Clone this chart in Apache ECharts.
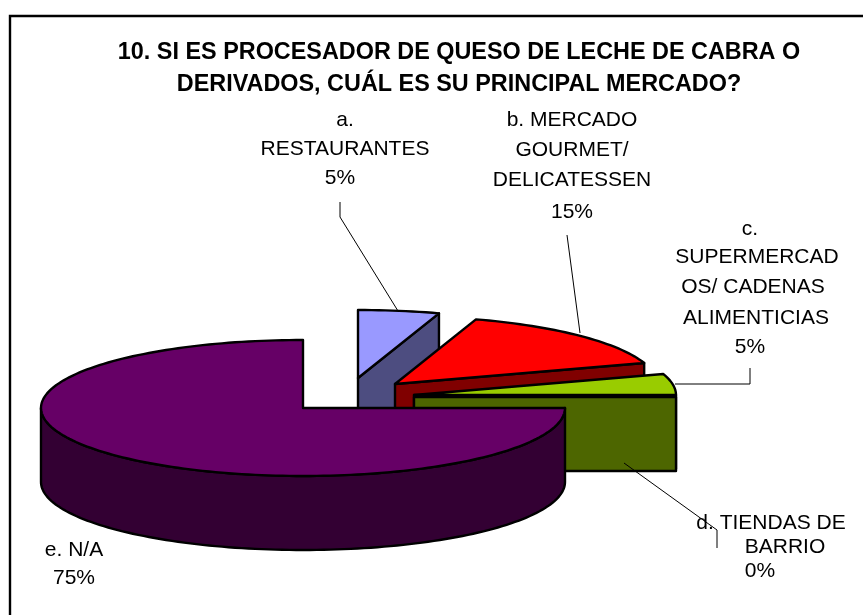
<!DOCTYPE html>
<html>
<head>
<meta charset="utf-8">
<style>html,body{margin:0;padding:0;background:#fff}#c{width:863px;height:615px}</style>
<script src="https://cdn.jsdelivr.net/npm/echarts@6/dist/echarts.min.js"></script>
</head>
<body>
<div id="c"></div>
<script>
// ---- data ----
const categories = ['a. RESTAURANTES', 'b. MERCADO GOURMET/ DELICATESSEN', 'c. SUPERMERCADOS/ CADENAS ALIMENTICIAS', 'd. TIENDAS DE BARRIO', 'e. N/A'];
const values = [5, 15, 5, 0, 75];
const titleText = '10. SI ES PROCESADOR DE QUESO DE LECHE DE CABRA O\nDERIVADOS, CUÁL ES SU PRINCIPAL MERCADO?';
const labelLines = [
  ['a.', 'RESTAURANTES'],
  ['b. MERCADO', 'GOURMET/', 'DELICATESSEN'],
  ['c.', 'SUPERMERCAD', 'OS/ CADENAS', 'ALIMENTICIAS'],
  ['d. TIENDAS DE', 'BARRIO'],
  ['e. N/A']
];

// ---- styles / layout ----
const topColors = ['#9999FF', '#FF0000', '#99CC00', '#99CC00', '#660066'];
const sideColors = ['#4D4D80', '#800000', '#4D6600', '#4D6600', '#330033'];
const apexes = [[358, 378], [395, 384], [414, 395], [414, 397], [303, 408]];
const RX = 262, RY = 68, DEPTH = 74;
const labelPos = [
  [[345, 120], [345, 149], [340, 178]],
  [[572, 120], [572, 150], [572, 180], [572, 212]],
  [[750, 229], [757, 257], [753, 287], [756, 318], [750, 347]],
  [[771, 523], [785, 547], [760, 571]],
  [[74, 550], [74, 578]]
];
const leaders = [
  [[340, 202], [340, 217], [398, 311]],
  [[567, 235], [580, 333]],
  [[750, 368], [750, 384], [675, 384]],
  [[624, 463], [717, 530], [717, 548]],
  []
];

const total = values.reduce((s, v) => s + v, 0);
function pt(apex, deg) {
  const r = deg * Math.PI / 180;
  return [apex[0] + RX * Math.sin(r), apex[1] - RY * Math.cos(r)];
}
function arc(apex, a0, a1) {
  const out = [];
  const n = Math.max(1, Math.ceil(Math.abs(a1 - a0) / 1.5));
  for (let i = 0; i <= n; i++) out.push(pt(apex, a0 + (a1 - a0) * i / n));
  return out;
}
const down = p => [p[0], p[1] + DEPTH];
const strokeStyle = fill => ({ fill, stroke: '#000', lineWidth: 2.4, lineJoin: 'round' });

function renderSlice(params, api) {
  const i = params.dataIndex;
  let before = 0;
  for (let k = 0; k < i; k++) before += values[k];
  const a0 = before / total * 360;
  const a1 = (before + api.value(0)) / total * 360;
  const apex = apexes[i];
  const children = [];
  // outer wall: only the part on the near half of the ellipse is visible
  const w0 = Math.max(a0, 90), w1 = Math.min(a1, 270);
  if (w1 > w0) {
    const rim = arc(apex, w0, w1);
    children.push({ type: 'polygon', shape: { points: rim.concat(rim.slice().reverse().map(down)) }, style: strokeStyle(sideColors[i]) });
  }
  // cut face at the end of the slice, when it faces the viewer
  if (a1 <= 90) {
    const e = pt(apex, a1);
    children.push({ type: 'polygon', shape: { points: [apex, e, down(e), down(apex)] }, style: strokeStyle(sideColors[i]) });
  }
  if (a1 > a0) {
    children.push({ type: 'polygon', shape: { points: [apex].concat(arc(apex, a0, a1)) }, style: strokeStyle(topColors[i]) });
  }
  return { type: 'group', children };
}

function renderLabel(params, api) {
  const i = params.dataIndex;
  const children = [];
  if (leaders[i].length) {
    children.push({ type: 'polyline', shape: { points: leaders[i] }, style: { fill: 'none', stroke: '#000', lineWidth: 1 } });
  }
  const lines = labelLines[i].concat([Math.round(api.value(0) / total * 100) + '%']);
  lines.forEach((t, k) => {
    children.push({
      type: 'text',
      style: {
        text: t, x: labelPos[i][k][0], y: labelPos[i][k][1],
        font: '21px "Liberation Sans", Arial, sans-serif',
        fill: '#000', align: 'center', verticalAlign: 'middle'
      }
    });
  });
  return { type: 'group', children };
}

const chart = echarts.init(document.getElementById('c'), null, { renderer: 'canvas' });
chart.setOption({
  animation: false,
  backgroundColor: '#fff',
  title: {
    text: titleText,
    left: 459, top: 32, textAlign: 'center',
    textStyle: { fontFamily: '"Liberation Sans", Arial, sans-serif', fontWeight: 'bold', fontSize: 23.4, lineHeight: 32, color: '#000' }
  },
  graphic: [{
    type: 'rect', z: -1, silent: true,
    shape: { x: 10, y: 16, width: 900, height: 650 },
    style: { fill: '#fff', stroke: '#000', lineWidth: 2.4 }
  }],
  series: [
    {
      type: 'custom', coordinateSystem: 'none', silent: true, z: 2,
      renderItem: renderSlice,
      data: categories.map((name, i) => ({ name, value: [values[i]] }))
    },
    {
      type: 'custom', coordinateSystem: 'none', silent: true, z: 3,
      renderItem: renderLabel,
      data: categories.map((name, i) => ({ name, value: [values[i]] }))
    }
  ]
});
chart.setOption({ title: { left: 454 } });
</script>
</body>
</html>
